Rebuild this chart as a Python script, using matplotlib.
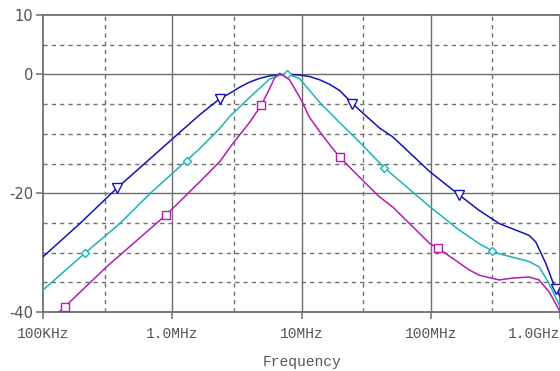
import numpy as np
import matplotlib
matplotlib.use("Agg")
import matplotlib.pyplot as plt

# frequency (Hz) / gain (dB)
f_blue = [1.0e5, 1.93e5, 3.71e5, 1.01e6, 1.63e6, 2.33e6, 2.78e6, 3.3e6, 3.96e6, 4.7e6,
          5.66e6, 6.76e6, 8.07e6, 9.66e6, 1.15e7, 1.38e7, 1.66e7, 1.97e7, 2.48e7, 2.81e7,
          4.0e7, 5.07e7, 9.86e7, 1.66e8, 2.37e8, 3.38e8, 5.77e8, 6.49e8, 7.76e8, 8.99e8,
          9.37e8, 1.0e9]
db_blue = [-30.7, -25.1, -19.2, -10.8, -6.8, -4.1, -3.2, -2.2, -1.3, -0.7,
           -0.25, -0.05, 0.0, -0.1, -0.35, -0.9, -1.7, -2.7, -4.9, -6.0,
           -9.0, -10.5, -16.4, -20.3, -22.9, -25.1, -27.1, -28.2, -31.8, -35.5,
           -36.2, -37.4]
mk_blue = [3.71e5, 2.33e6, 2.48e7, 1.66e8, 9.37e8]

f_cyan = [1.0e5, 2.11e5, 3.93e5, 6.70e5, 1.29e6, 1.63e6, 2.33e6, 2.78e6, 3.96e6, 5.66e6,
          6.76e6, 7.70e6, 9.66e6, 1.38e7, 1.97e7, 2.81e7, 4.37e7, 9.86e7, 1.66e8, 2.37e8,
          3.0e8, 3.38e8, 5.77e8, 6.88e8, 8.23e8, 1.0e9]
db_cyan = [-36.3, -30.1, -25.1, -20.1, -14.5, -12.5, -9.1, -7.1, -3.9, -0.8,
           -0.15, 0.1, -0.7, -4.7, -8.1, -11.4, -15.7, -22.3, -26.2, -28.5,
           -29.7, -30.2, -31.5, -32.4, -35.2, -39.1]
mk_cyan = [2.11e5, 1.29e6, 7.70e6, 4.37e7, 3.0e8]

f_mag = [1.0e5, 1.48e5, 3.10e5, 9.02e5, 1.63e6, 2.33e6, 2.95e6, 3.96e6, 4.88e6, 5.66e6,
         6.19e6, 6.76e6, 8.07e6, 9.95e6, 1.15e7, 1.38e7, 1.66e7, 1.97e7, 2.81e7, 4.0e7,
         5.07e7, 9.86e7, 1.13e8, 1.98e8, 2.37e8, 3.38e8, 4.28e8, 5.77e8, 6.88e8, 8.23e8,
         1.0e9]
db_mag = [-42.4, -39.1, -32.4, -23.6, -18.1, -14.7, -11.6, -8.1, -5.2, -2.4,
          -0.6, 0.2, -0.9, -4.3, -7.2, -9.6, -11.9, -13.9, -17.3, -20.6,
          -22.3, -28.5, -29.2, -32.9, -33.8, -34.6, -34.3, -34.1, -34.6, -36.6,
          -39.9]
mk_mag = [1.48e5, 9.02e5, 4.88e6, 1.97e7, 1.13e8]

xticks = [1e5, 1e6, 1e7, 1e8, 1e9]
xlabels = ["100KHz", "1.0MHz", "10MHz", "100MHz", "1.0GHz"]
yticks = [-40, -20, 0, 10]

fig = plt.figure(figsize=(5.6, 3.71), dpi=100)
ax = fig.add_axes([43 / 560, 1 - 312 / 371, 1 - 43 / 560, 297 / 371])

gc = "#6e6e6e"
for y in [0, -20]:
    ax.axhline(y, color=gc, lw=1.0, zorder=1)
for y in [5, -5, -10, -15, -25, -30, -35]:
    ax.axhline(y, color=gc, lw=1.0, ls=(0, (3, 3)), zorder=1)
for x in [1e6, 1e7, 1e8]:
    ax.axvline(x, color=gc, lw=1.0, zorder=1)
for x in [3e5, 3e6, 3e7, 3e8]:
    ax.axvline(x, color=gc, lw=1.0, ls=(0, (3, 3)), zorder=1)

series = [
    (f_blue, db_blue, mk_blue, "#1414b4", "v", 6.5),
    (f_cyan, db_cyan, mk_cyan, "#1cb4b4", "D", 4.5),
    (f_mag, db_mag, mk_mag, "#b41cb4", "s", 6),
]
for f, db, mk, c, m, ms in series:
    idx = [i for i, v in enumerate(f) if v in mk]
    ax.plot(f, db, color=c, lw=1.1, marker=m, ms=ms, mfc="white", mec=c, mew=1.0,
            markevery=idx, zorder=3)

ax.set_xscale("log")
ax.set_xlim(1e5, 1e9)
ax.set_ylim(-40, 10)
ax.set_xticks(xticks)
ax.set_xticklabels(xlabels, family="Liberation Mono", fontsize=10.5, color="#555555")
ax.xaxis.get_ticklabels()[-1].set_horizontalalignment("right")
ax.minorticks_off()
ax.set_yticks(yticks)
ax.set_yticklabels([str(v) for v in yticks], family="DejaVu Sans", fontsize=10.5,
                   color="#555555")
ax.tick_params(axis="both", color=gc, width=1.1, length=5, direction="out")
ax.tick_params(axis="x", pad=6)
ax.tick_params(axis="y", pad=2)
for s in ax.spines.values():
    s.set_color(gc)
    s.set_linewidth(1.3)
ax.set_xlabel("Frequency", family="Liberation Mono", fontsize=10.5, color="#555555",
              labelpad=10)

fig.savefig("out.png", dpi=100)
